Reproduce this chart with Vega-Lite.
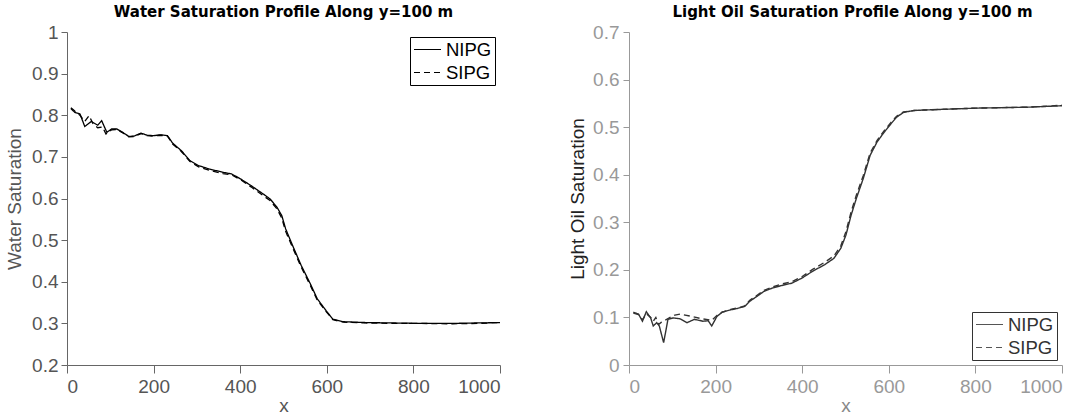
{
  "$schema": "https://vega.github.io/schema/vega-lite/v6.json",
  "background": "white",
  "spacing": 65,
  "datasets": {
    "water": [
      {"x": 9, "value": 0.816, "series": "NIPG"}, {"x": 18, "value": 0.807, "series": "NIPG"}, {"x": 30, "value": 0.803, "series": "NIPG"}, {"x": 41, "value": 0.773, "series": "NIPG"}, {"x": 56, "value": 0.785, "series": "NIPG"}, {"x": 71, "value": 0.776, "series": "NIPG"}, {"x": 80, "value": 0.787, "series": "NIPG"}, {"x": 92, "value": 0.759, "series": "NIPG"}, {"x": 103, "value": 0.767, "series": "NIPG"}, {"x": 115, "value": 0.767, "series": "NIPG"}, {"x": 130, "value": 0.758, "series": "NIPG"}, {"x": 143, "value": 0.749, "series": "NIPG"}, {"x": 155, "value": 0.75, "series": "NIPG"}, {"x": 171, "value": 0.757, "series": "NIPG"}, {"x": 185, "value": 0.752, "series": "NIPG"}, {"x": 200, "value": 0.751, "series": "NIPG"}, {"x": 216, "value": 0.753, "series": "NIPG"}, {"x": 232, "value": 0.751, "series": "NIPG"}, {"x": 244, "value": 0.733, "series": "NIPG"}, {"x": 264, "value": 0.715, "series": "NIPG"}, {"x": 284, "value": 0.691, "series": "NIPG"}, {"x": 304, "value": 0.679, "series": "NIPG"}, {"x": 328, "value": 0.671, "series": "NIPG"}, {"x": 360, "value": 0.663, "series": "NIPG"}, {"x": 380, "value": 0.659, "series": "NIPG"}, {"x": 401, "value": 0.647, "series": "NIPG"}, {"x": 425, "value": 0.631, "series": "NIPG"}, {"x": 453, "value": 0.611, "series": "NIPG"}, {"x": 469, "value": 0.599, "series": "NIPG"}, {"x": 485, "value": 0.579, "series": "NIPG"}, {"x": 496, "value": 0.559, "series": "NIPG"}, {"x": 505, "value": 0.527, "series": "NIPG"}, {"x": 521, "value": 0.487, "series": "NIPG"}, {"x": 541, "value": 0.439, "series": "NIPG"}, {"x": 562, "value": 0.395, "series": "NIPG"}, {"x": 578, "value": 0.359, "series": "NIPG"}, {"x": 598, "value": 0.331, "series": "NIPG"}, {"x": 614, "value": 0.31, "series": "NIPG"}, {"x": 638, "value": 0.304, "series": "NIPG"}, {"x": 690, "value": 0.302, "series": "NIPG"}, {"x": 750, "value": 0.301, "series": "NIPG"}, {"x": 811, "value": 0.3, "series": "NIPG"}, {"x": 891, "value": 0.3, "series": "NIPG"}, {"x": 950, "value": 0.301, "series": "NIPG"}, {"x": 1000, "value": 0.302, "series": "NIPG"},
      {"x": 9, "value": 0.818, "series": "SIPG"}, {"x": 18, "value": 0.81, "series": "SIPG"}, {"x": 30, "value": 0.8, "series": "SIPG"}, {"x": 41, "value": 0.785, "series": "SIPG"}, {"x": 51, "value": 0.799, "series": "SIPG"}, {"x": 60, "value": 0.78, "series": "SIPG"}, {"x": 71, "value": 0.77, "series": "SIPG"}, {"x": 82, "value": 0.772, "series": "SIPG"}, {"x": 90, "value": 0.755, "series": "SIPG"}, {"x": 103, "value": 0.765, "series": "SIPG"}, {"x": 115, "value": 0.766, "series": "SIPG"}, {"x": 130, "value": 0.757, "series": "SIPG"}, {"x": 143, "value": 0.748, "series": "SIPG"}, {"x": 155, "value": 0.749, "series": "SIPG"}, {"x": 171, "value": 0.756, "series": "SIPG"}, {"x": 185, "value": 0.751, "series": "SIPG"}, {"x": 200, "value": 0.75, "series": "SIPG"}, {"x": 216, "value": 0.752, "series": "SIPG"}, {"x": 232, "value": 0.75, "series": "SIPG"}, {"x": 244, "value": 0.731, "series": "SIPG"}, {"x": 264, "value": 0.713, "series": "SIPG"}, {"x": 284, "value": 0.689, "series": "SIPG"}, {"x": 304, "value": 0.676, "series": "SIPG"}, {"x": 328, "value": 0.668, "series": "SIPG"}, {"x": 360, "value": 0.66, "series": "SIPG"}, {"x": 380, "value": 0.657, "series": "SIPG"}, {"x": 401, "value": 0.645, "series": "SIPG"}, {"x": 425, "value": 0.628, "series": "SIPG"}, {"x": 453, "value": 0.607, "series": "SIPG"}, {"x": 469, "value": 0.595, "series": "SIPG"}, {"x": 485, "value": 0.575, "series": "SIPG"}, {"x": 496, "value": 0.553, "series": "SIPG"}, {"x": 505, "value": 0.521, "series": "SIPG"}, {"x": 521, "value": 0.482, "series": "SIPG"}, {"x": 541, "value": 0.435, "series": "SIPG"}, {"x": 562, "value": 0.391, "series": "SIPG"}, {"x": 578, "value": 0.356, "series": "SIPG"}, {"x": 598, "value": 0.329, "series": "SIPG"}, {"x": 614, "value": 0.309, "series": "SIPG"}, {"x": 638, "value": 0.303, "series": "SIPG"}, {"x": 690, "value": 0.301, "series": "SIPG"}, {"x": 750, "value": 0.3, "series": "SIPG"}, {"x": 811, "value": 0.3, "series": "SIPG"}, {"x": 891, "value": 0.299, "series": "SIPG"}, {"x": 950, "value": 0.3, "series": "SIPG"}, {"x": 1000, "value": 0.302, "series": "SIPG"}
    ],
    "oil": [
      {"x": 10, "value": 0.111, "series": "NIPG"}, {"x": 22, "value": 0.107, "series": "NIPG"}, {"x": 31, "value": 0.092, "series": "NIPG"}, {"x": 40, "value": 0.112, "series": "NIPG"}, {"x": 50, "value": 0.099, "series": "NIPG"}, {"x": 56, "value": 0.082, "series": "NIPG"}, {"x": 64, "value": 0.089, "series": "NIPG"}, {"x": 70, "value": 0.082, "series": "NIPG"}, {"x": 80, "value": 0.047, "series": "NIPG"}, {"x": 90, "value": 0.096, "series": "NIPG"}, {"x": 102, "value": 0.099, "series": "NIPG"}, {"x": 118, "value": 0.097, "series": "NIPG"}, {"x": 134, "value": 0.089, "series": "NIPG"}, {"x": 151, "value": 0.096, "series": "NIPG"}, {"x": 171, "value": 0.092, "series": "NIPG"}, {"x": 183, "value": 0.093, "series": "NIPG"}, {"x": 191, "value": 0.082, "series": "NIPG"}, {"x": 203, "value": 0.102, "series": "NIPG"}, {"x": 215, "value": 0.111, "series": "NIPG"}, {"x": 235, "value": 0.116, "series": "NIPG"}, {"x": 251, "value": 0.119, "series": "NIPG"}, {"x": 267, "value": 0.123, "series": "NIPG"}, {"x": 279, "value": 0.134, "series": "NIPG"}, {"x": 295, "value": 0.144, "series": "NIPG"}, {"x": 312, "value": 0.155, "series": "NIPG"}, {"x": 332, "value": 0.162, "series": "NIPG"}, {"x": 352, "value": 0.167, "series": "NIPG"}, {"x": 376, "value": 0.172, "series": "NIPG"}, {"x": 400, "value": 0.183, "series": "NIPG"}, {"x": 424, "value": 0.197, "series": "NIPG"}, {"x": 452, "value": 0.211, "series": "NIPG"}, {"x": 473, "value": 0.224, "series": "NIPG"}, {"x": 489, "value": 0.245, "series": "NIPG"}, {"x": 501, "value": 0.273, "series": "NIPG"}, {"x": 513, "value": 0.315, "series": "NIPG"}, {"x": 525, "value": 0.35, "series": "NIPG"}, {"x": 541, "value": 0.392, "series": "NIPG"}, {"x": 557, "value": 0.441, "series": "NIPG"}, {"x": 573, "value": 0.469, "series": "NIPG"}, {"x": 589, "value": 0.489, "series": "NIPG"}, {"x": 605, "value": 0.507, "series": "NIPG"}, {"x": 618, "value": 0.521, "series": "NIPG"}, {"x": 634, "value": 0.531, "series": "NIPG"}, {"x": 658, "value": 0.535, "series": "NIPG"}, {"x": 682, "value": 0.536, "series": "NIPG"}, {"x": 803, "value": 0.54, "series": "NIPG"}, {"x": 923, "value": 0.542, "series": "NIPG"}, {"x": 1000, "value": 0.545, "series": "NIPG"},
      {"x": 10, "value": 0.109, "series": "SIPG"}, {"x": 22, "value": 0.106, "series": "SIPG"}, {"x": 31, "value": 0.095, "series": "SIPG"}, {"x": 40, "value": 0.108, "series": "SIPG"}, {"x": 50, "value": 0.1, "series": "SIPG"}, {"x": 56, "value": 0.092, "series": "SIPG"}, {"x": 62, "value": 0.1, "series": "SIPG"}, {"x": 68, "value": 0.085, "series": "SIPG"}, {"x": 75, "value": 0.09, "series": "SIPG"}, {"x": 85, "value": 0.095, "series": "SIPG"}, {"x": 95, "value": 0.1, "series": "SIPG"}, {"x": 106, "value": 0.105, "series": "SIPG"}, {"x": 118, "value": 0.107, "series": "SIPG"}, {"x": 140, "value": 0.103, "series": "SIPG"}, {"x": 164, "value": 0.098, "series": "SIPG"}, {"x": 191, "value": 0.094, "series": "SIPG"}, {"x": 203, "value": 0.104, "series": "SIPG"}, {"x": 215, "value": 0.111, "series": "SIPG"}, {"x": 235, "value": 0.117, "series": "SIPG"}, {"x": 251, "value": 0.12, "series": "SIPG"}, {"x": 267, "value": 0.124, "series": "SIPG"}, {"x": 279, "value": 0.136, "series": "SIPG"}, {"x": 295, "value": 0.146, "series": "SIPG"}, {"x": 312, "value": 0.157, "series": "SIPG"}, {"x": 332, "value": 0.164, "series": "SIPG"}, {"x": 352, "value": 0.17, "series": "SIPG"}, {"x": 376, "value": 0.175, "series": "SIPG"}, {"x": 400, "value": 0.186, "series": "SIPG"}, {"x": 424, "value": 0.201, "series": "SIPG"}, {"x": 452, "value": 0.216, "series": "SIPG"}, {"x": 473, "value": 0.229, "series": "SIPG"}, {"x": 489, "value": 0.25, "series": "SIPG"}, {"x": 501, "value": 0.28, "series": "SIPG"}, {"x": 513, "value": 0.322, "series": "SIPG"}, {"x": 525, "value": 0.357, "series": "SIPG"}, {"x": 541, "value": 0.398, "series": "SIPG"}, {"x": 557, "value": 0.446, "series": "SIPG"}, {"x": 573, "value": 0.472, "series": "SIPG"}, {"x": 589, "value": 0.492, "series": "SIPG"}, {"x": 605, "value": 0.51, "series": "SIPG"}, {"x": 618, "value": 0.523, "series": "SIPG"}, {"x": 634, "value": 0.532, "series": "SIPG"}, {"x": 658, "value": 0.535, "series": "SIPG"}, {"x": 682, "value": 0.536, "series": "SIPG"}, {"x": 803, "value": 0.54, "series": "SIPG"}, {"x": 923, "value": 0.542, "series": "SIPG"}, {"x": 1000, "value": 0.546, "series": "SIPG"}
    ]
  },
  "config": {
    "view": {"stroke": null},
    "font": "Liberation Sans",
    "axis": {
      "grid": false,
      "labelFont": "Liberation Sans",
      "labelFontSize": 19,
      "labelColor": "#555",
      "titleFont": "Liberation Sans",
      "titleFontSize": 19,
      "titleFontWeight": "normal",
      "titleColor": "#555",
      "domainColor": "#666",
      "tickColor": "#666"
    },
    "axisX": {"tickSize": 8, "labelPadding": 4, "titlePadding": 0},
    "axisY": {"tickSize": 6, "labelPadding": 3, "titlePadding": 7},
    "title": {"fontSize": 15, "fontWeight": "bold", "font": "DejaVu Sans", "color": "black", "offset": 3, "anchor": "middle", "frame": "group"},
    "legend": {
      "symbolType": "M-1.5,0H1.5",
      "symbolSize": 324,
      "symbolStrokeWidth": 1,
      "symbolOffset": 5,
      "labelFontSize": 18.5,
      "labelFont": "Liberation Sans",
      "labelOffset": 9,
      "strokeColor": "black",
      "fillColor": "white",
      "padding": 3,
      "rowPadding": 4,
      "offset": 5,
      "title": null
    }
  },
  "resolve": {"scale": {"strokeDash": "independent"}, "legend": {"strokeDash": "independent"}},
  "hconcat": [
    {
      "title": "Water Saturation Profile Along y=100 m",
      "width": 433,
      "height": 333,
      "data": {"name": "water"},
      "mark": {"type": "line", "color": "black", "strokeWidth": 1.3},
      "encoding": {
        "x": {"field": "x", "type": "quantitative", "scale": {"domain": [0, 1000], "nice": false}, "axis": {"title": "x", "values": [0, 200, 400, 600, 800, 1000], "format": "d"}},
        "y": {"field": "value", "type": "quantitative", "scale": {"domain": [0.2, 1], "nice": false}, "axis": {"title": "Water Saturation", "values": [0.2, 0.3, 0.4, 0.5, 0.6, 0.7, 0.8, 0.9, 1], "format": "~g"}},
        "strokeDash": {"field": "series", "type": "nominal", "scale": {"domain": ["NIPG", "SIPG"], "range": [[1, 0], [6, 4]]}, "legend": {"orient": "top-right", "symbolStrokeColor": "black", "labelColor": "black"}}
      }
    },
    {
      "title": {"text": "Light Oil Saturation Profile Along y=100 m", "dx": 7},
      "width": 433,
      "height": 333,
      "data": {"name": "oil"},
      "mark": {"type": "line", "color": "#333", "strokeWidth": 1.4},
      "encoding": {
        "x": {"field": "x", "type": "quantitative", "scale": {"domain": [0, 1000], "nice": false}, "axis": {"title": "x", "values": [0, 200, 400, 600, 800, 1000], "format": "d", "labelColor": "#999", "titleColor": "#888", "domainColor": "#999", "tickColor": "#999"}},
        "y": {"field": "value", "type": "quantitative", "scale": {"domain": [0, 0.7], "nice": false}, "axis": {"title": "Light Oil Saturation", "values": [0, 0.1, 0.2, 0.3, 0.4, 0.5, 0.6, 0.7], "format": "~g", "titlePadding": 5, "labelPadding": 4, "labelColor": "#999", "titleColor": "#222", "domainColor": "#999", "tickColor": "#999"}},
        "strokeDash": {"field": "series", "type": "nominal", "scale": {"domain": ["NIPG", "SIPG"], "range": [[1, 0], [6, 4]]}, "legend": {"orient": "bottom-right", "symbolStrokeColor": "#555", "labelColor": "#333", "strokeColor": "#333"}}
      }
    }
  ]
}
